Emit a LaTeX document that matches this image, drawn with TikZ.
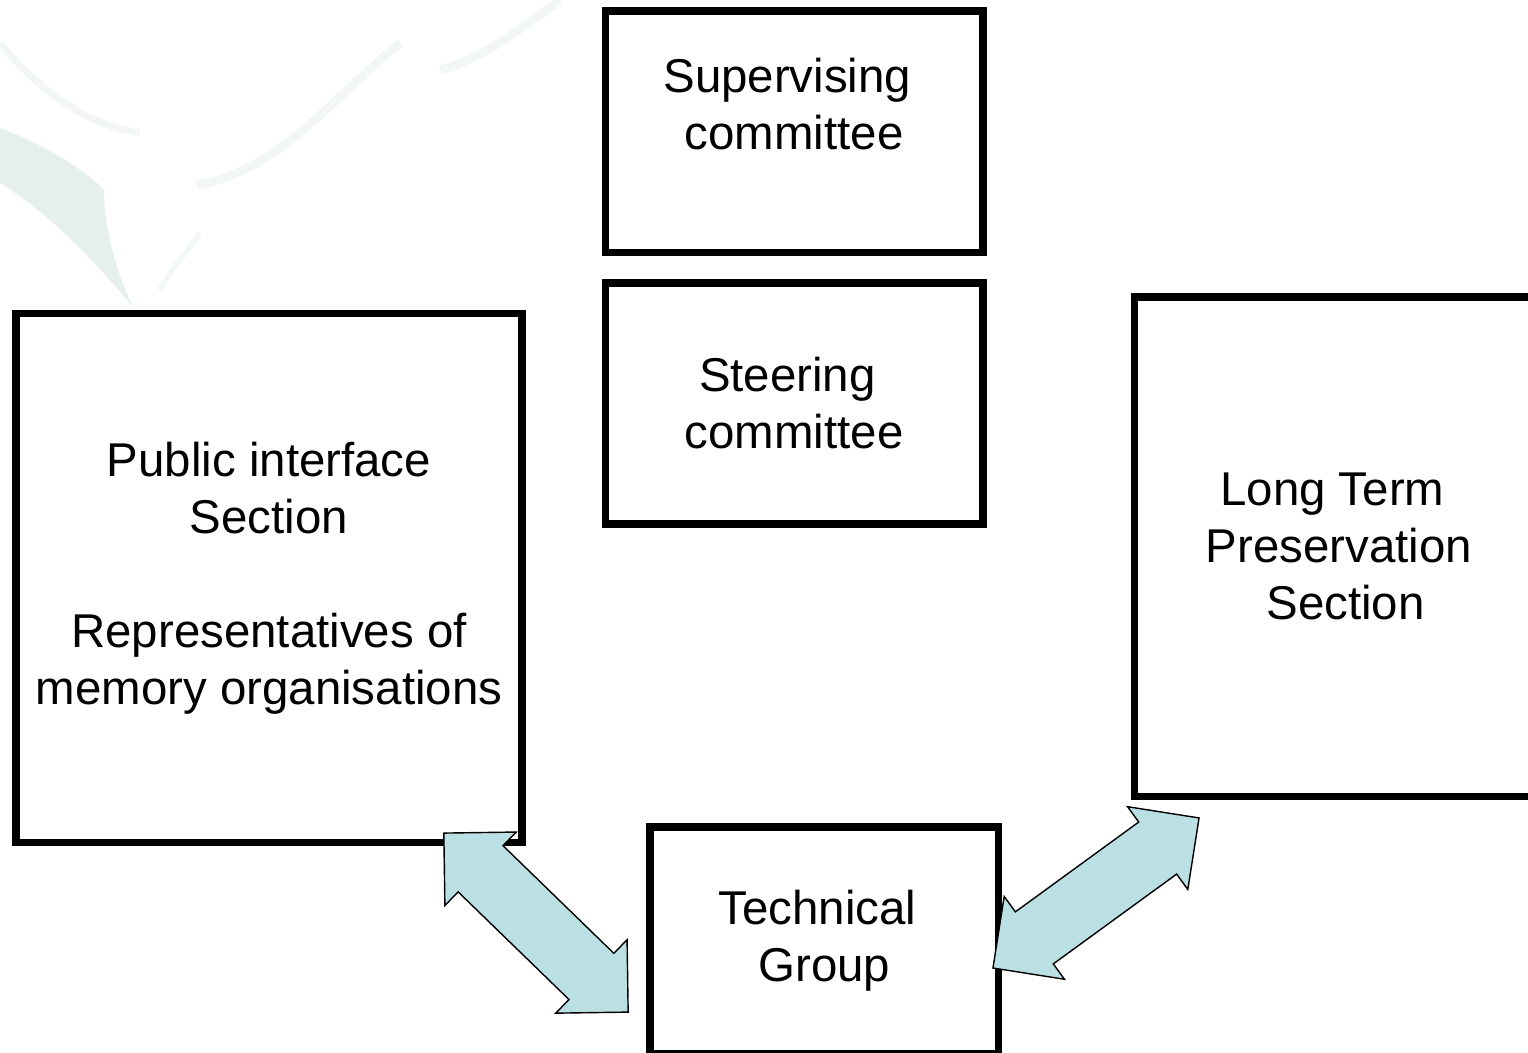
\documentclass[tikz,border=0pt]{standalone}
\usepackage{fontspec}
\setmainfont{Liberation Sans}
\usetikzlibrary{shapes.arrows}
\definecolor{arrowblue}{RGB}{187,224,227}
\definecolor{leafgrey}{RGB}{229,239,236}
\definecolor{leaflight}{RGB}{242,247,245}
\begin{document}
\begin{tikzpicture}[x=0.02cm,y=-0.02cm,
    box/.style={draw,line width=4.3pt,align=center,inner sep=0pt,outer sep=0pt,
        font=\fontsize{27}{32.4}\selectfont},
    link/.style={double arrow,draw,fill=arrowblue,line width=0.8pt,
        inner xsep=0pt,inner ysep=0.63cm,double arrow head extend=0.38cm}]
    \useasboundingbox (0,0) rectangle (1528,1053);
    \fill[leafgrey] (0,128) .. controls (45,145) and (85,170) .. (104,190)
        .. controls (104,225) and (115,270) .. (133,307)
        .. controls (110,280) and (60,220) .. (0,183) -- cycle;
    \draw[leaflight,line width=4pt] (0,43) .. controls (30,80) and (80,125) .. (140,133);
    \draw[leaflight,line width=5pt] (400,43) .. controls (330,100) and (280,170) .. (197,185);
    \draw[leaflight,line width=3pt] (200,233) .. controls (185,255) and (170,270) .. (160,290);
    \draw[leaflight,line width=5pt] (560,0) .. controls (520,30) and (480,60) .. (440,70);
    \node[box,minimum width=7.55cm,minimum height=4.83cm] (SC) at (794,132)
        {Supervising\kern.28em\\committee\\\mbox{}};
    \node[box,minimum width=7.55cm,minimum height=4.82cm] (ST) at ([shift={+(0,271.5)}]SC)
        {Steering\kern.28em\\committee};
    \node[box,minimum width=10.12cm,minimum height=10.59cm] (PI) at (269,578)
        {Public interface\\Section\\\mbox{}\\Representatives of\\memory organisations};
    \node[box,minimum width=8.18cm,minimum height=9.99cm] (LT) at (1339,546.75)
        {Long Term\kern.28em\\Preservation\\\kern.28em Section};
    \node[box,minimum width=6.97cm,minimum height=4.54cm] (TG) at (824.25,940.5)
        {Technical\kern.28em\\Group};
    \coordinate (PIa) at ([shift={+(-78,-9.5)}]PI.south east);
    \coordinate (TGa) at ([shift={+(-22,71.5)}]TG.west);
    \coordinate (TGb) at ([shift={+(-5.5,27.5)}]TG.east);
    \coordinate (LTa) at ([shift={+(64.5,21.5)}]LT.south west);
    \path (PIa) -- (TGa) node[link,midway,sloped,minimum height=5.14cm] {};
    \path (TGb) -- (LTa) node[link,midway,sloped,minimum height=5.10cm] {};
\end{tikzpicture}
\end{document}
